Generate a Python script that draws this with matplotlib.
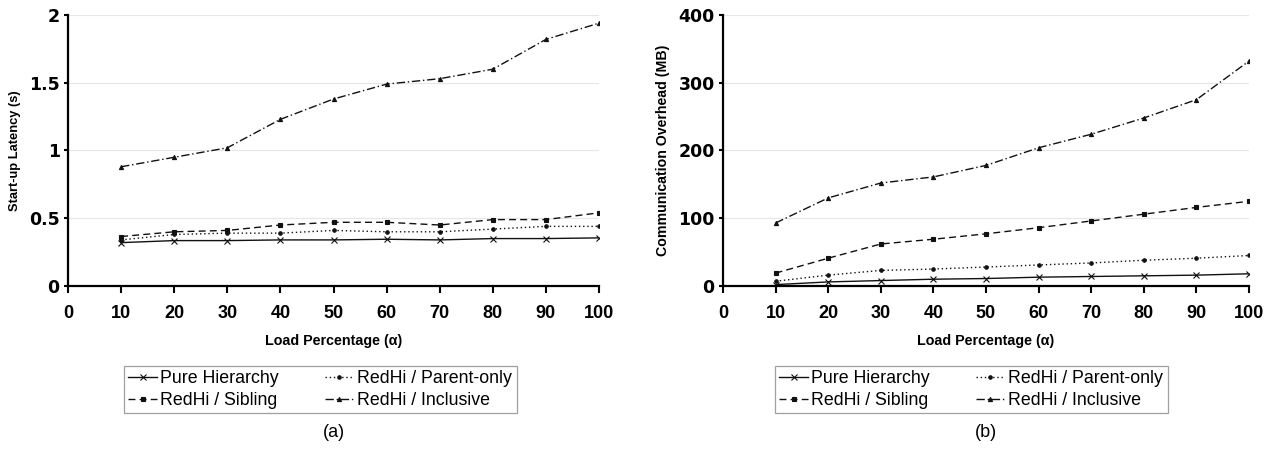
import matplotlib
matplotlib.use('Agg')
import matplotlib.pyplot as plt

plt.rcParams['font.family'] = ['Liberation Sans', 'DejaVu Sans']

# load percentage (alpha)
load = [10, 20, 30, 40, 50, 60, 70, 80, 90, 100]

# (a) start-up latency, seconds
lat_pure = [0.32, 0.335, 0.335, 0.34, 0.34, 0.345, 0.34, 0.35, 0.35, 0.355]
lat_parent = [0.34, 0.38, 0.39, 0.39, 0.41, 0.40, 0.40, 0.42, 0.44, 0.44]
lat_sibling = [0.365, 0.40, 0.41, 0.45, 0.47, 0.47, 0.45, 0.49, 0.49, 0.54]
lat_inclusive = [0.88, 0.95, 1.02, 1.23, 1.38, 1.49, 1.53, 1.60, 1.82, 1.94]

# (b) communication overhead, MB
ovh_pure = [2, 6, 8, 10, 11, 13, 14, 15, 16, 18]
ovh_parent = [7, 16, 23, 25, 28, 31, 34, 38, 41, 45]
ovh_sibling = [19, 41, 62, 69, 77, 86, 96, 106, 116, 125]
ovh_inclusive = [93, 130, 152, 161, 178, 204, 224, 248, 275, 332]

labels = ['Pure Hierarchy', 'RedHi / Parent-only', 'RedHi / Sibling', 'RedHi / Inclusive']
styles = [('-', 'x', 4), ((0, (1, 2)), 'o', 2.5), ((0, (5, 3)), 's', 3), ((0, (6, 2, 1, 2)), '^', 3)]


def draw_panel(ax, series, ylim, yticks, ylabel, ylabel_size, ytickfmt, caption, leg_x):
    lines = []
    for vals, lab, (ls, mk, ms) in zip(series, labels, styles):
        ln, = ax.plot(load, vals, color='#111111', linestyle=ls, linewidth=1.0,
                      marker=mk, markersize=ms, markeredgewidth=0.8, label=lab)
        lines.append(ln)
    ax.set_xlim(0, 100)
    ax.set_ylim(*ylim)
    ax.set_xticks(range(0, 101, 10))
    ax.set_yticks(yticks)
    ax.set_yticklabels([ytickfmt(v) for v in yticks], family='DejaVu Sans',
                       fontweight='bold', fontsize=12.5)
    ax.yaxis.grid(True, color='#e6e6e6', linewidth=0.8)
    ax.set_axisbelow(True)
    for s in ['top', 'right']:
        ax.spines[s].set_visible(False)
    for s in ['left', 'bottom']:
        ax.spines[s].set_linewidth(1.6)
    ax.tick_params(axis='x', direction='out', length=5, width=1.5, labelsize=13, pad=9)
    ax.tick_params(axis='y', direction='out', length=3, width=1.5, pad=3)
    for t in ax.get_xticklabels():
        t.set_fontweight('bold')
    ax.set_xlabel('Load Percentage (α)', fontsize=10.3, fontweight='bold', labelpad=8)
    ax.set_ylabel(ylabel, fontsize=ylabel_size, fontweight='bold', labelpad=6)
    # row-wise order: Pure / Parent-only, then Sibling / Inclusive
    order = [0, 2, 1, 3]
    leg = ax.legend([lines[i] for i in order], [labels[i] for i in order],
                    loc='upper center', bbox_to_anchor=(leg_x, -0.262), ncol=2, fontsize=12.8,
                    frameon=True, fancybox=False, edgecolor='#888888', handlelength=1.6,
                    handletextpad=0.2, columnspacing=2.6, labelspacing=0.25, borderpad=0.25)
    leg.get_frame().set_linewidth(0.9)
    ax.text(0.5, -0.542, caption, transform=ax.transAxes, ha='center', va='center', fontsize=13)


fig = plt.figure(figsize=(12.81, 4.51), dpi=100)
ax1 = fig.add_axes([0.0531, 0.3659, 0.4145, 0.6008])
ax2 = fig.add_axes([0.5644, 0.3659, 0.4106, 0.6008])

draw_panel(ax1, [lat_pure, lat_parent, lat_sibling, lat_inclusive], (0, 2),
           [0, 0.5, 1, 1.5, 2], 'Start-up Latency (s)', 9.3,
           lambda v: '{:g}'.format(v), '(a)', 0.475)
draw_panel(ax2, [ovh_pure, ovh_parent, ovh_sibling, ovh_inclusive], (0, 400),
           [0, 100, 200, 300, 400], 'Communication Overhead (MB)', 10.2,
           lambda v: '{:d}'.format(v), '(b)', 0.472)

fig.savefig('out.png', dpi=100)
